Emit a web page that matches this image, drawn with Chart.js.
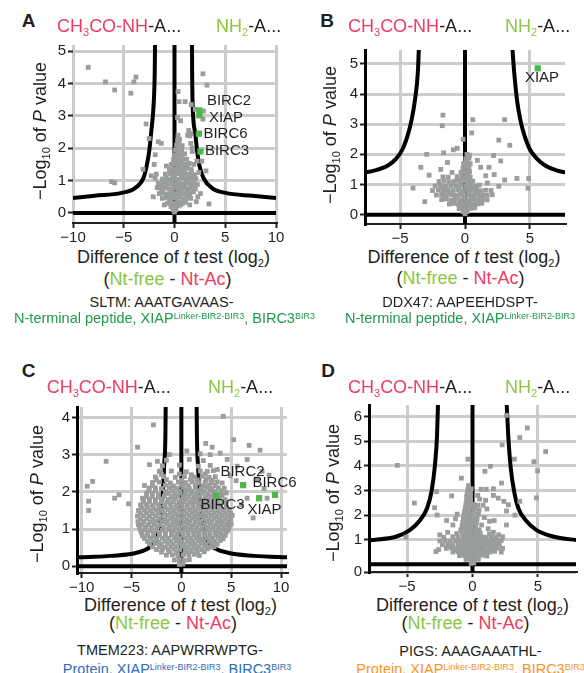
<!DOCTYPE html>
<html>
<head>
<meta charset="utf-8">
<script src="https://cdn.jsdelivr.net/npm/chart.js@4.4.1/dist/chart.umd.min.js"></script>
<style>
html, body { margin: 0; padding: 0; background: #fff; }
body { width: 584px; height: 673px; position: relative; overflow: hidden; font-family: "Liberation Sans", Arial, sans-serif; color: #231f20; }
canvas { position: absolute; }
.t { position: absolute; white-space: nowrap; line-height: 1; transform: translate(-50%, -50%); }
.l { position: absolute; white-space: nowrap; line-height: 1; transform: translateY(-50%); }
.yt { transform: translate(-50%, -50%) rotate(-90deg); }
.let { font-weight: bold; font-size: 19px; }
.hd, .ax { font-size: 18px; }
.cap { font-size: 14.5px; }
.lab { font-size: 15px; }
.sb { font-size: 11px; position: relative; top: 4px; }
.sp { font-size: 9px; position: relative; top: -3.6px; }
.red { color: #ec3c62; }
.lime { color: #8cc63f; }
.grn { color: #1f9a4b; }
.blu { color: #2f6db5; }
.org { color: #f7941d; }
</style>
</head>
<body>

<div class="t let" style="left:28.5px;top:20px">A</div>
<div class="t let" style="left:327px;top:20px">B</div>
<div class="t let" style="left:28.5px;top:370px">C</div>
<div class="t let" style="left:328px;top:370px">D</div>

<div class="l hd" style="left:57px;top:26px"><span class="red">CH<span class="sb">3</span>CO-NH</span>-A...</div>
<div class="l hd" style="left:216px;top:26px"><span class="lime">NH<span class="sb">2</span></span>-A...</div>
<div class="l hd" style="left:348px;top:26px"><span class="red">CH<span class="sb">3</span>CO-NH</span>-A...</div>
<div class="l hd" style="left:505px;top:26px"><span class="lime">NH<span class="sb">2</span></span>-A...</div>
<div class="l hd" style="left:46.7px;top:386.7px"><span class="red">CH<span class="sb">3</span>CO-NH</span>-A...</div>
<div class="l hd" style="left:208px;top:386.7px"><span class="lime">NH<span class="sb">2</span></span>-A...</div>
<div class="l hd" style="left:348px;top:386.7px"><span class="red">CH<span class="sb">3</span>CO-NH</span>-A...</div>
<div class="l hd" style="left:505px;top:386.7px"><span class="lime">NH<span class="sb">2</span></span>-A...</div>

<div class="t ax yt" style="left:40px;top:131px">&minus;Log<span class="sb">10</span> of <i>P</i> value</div>
<div class="t ax yt" style="left:330px;top:135px">&minus;Log<span class="sb">10</span> of <i>P</i> value</div>
<div class="t ax yt" style="left:37px;top:494px">&minus;Log<span class="sb">10</span> of <i>P</i> value</div>
<div class="t ax yt" style="left:333px;top:493px">&minus;Log<span class="sb">10</span> of <i>P</i> value</div>

<div class="t ax" style="left:173.5px;top:257px">Difference of <i>t</i> test (log<span class="sb">2</span>)</div>
<div class="t ax" style="left:464px;top:257px">Difference of <i>t</i> test (log<span class="sb">2</span>)</div>
<div class="t ax" style="left:180.5px;top:605px">Difference of <i>t</i> test (log<span class="sb">2</span>)</div>
<div class="t ax" style="left:472.5px;top:605px">Difference of <i>t</i> test (log<span class="sb">2</span>)</div>

<div class="t ax" style="left:167.5px;top:279px">(<span class="lime">Nt-free</span> - <span class="red">Nt-Ac</span>)</div>
<div class="t ax" style="left:460.5px;top:278px">(<span class="lime">Nt-free</span> - <span class="red">Nt-Ac</span>)</div>
<div class="t ax" style="left:173px;top:622.5px">(<span class="lime">Nt-free</span> - <span class="red">Nt-Ac</span>)</div>
<div class="t ax" style="left:465.5px;top:622.5px">(<span class="lime">Nt-free</span> - <span class="red">Nt-Ac</span>)</div>

<div class="t cap" style="left:161.5px;top:302px">SLTM: AAATGAVAAS-</div>
<div class="t cap grn" style="left:164.5px;top:318px">N-terminal peptide, XIAP<span class="sp">Linker-BIR2-BIR3</span>, BIRC3<span class="sp">BIR3</span></div>
<div class="t cap" style="left:460px;top:302px">DDX47: AAPEEHDSPT-</div>
<div class="t cap grn" style="left:460px;top:318px">N-terminal peptide, XIAP<span class="sp">Linker-BIR2-BIR3</span></div>
<div class="t cap" style="left:170px;top:650px">TMEM223: AAPWRRWPTG-</div>
<div class="t cap blu" style="left:177px;top:669px">Protein, XIAP<span class="sp">Linker-BIR2-BIR3</span>, BIRC3<span class="sp">BIR3</span></div>
<div class="t cap" style="left:470.5px;top:651px">PIGS: AAAGAAATHL-</div>
<div class="t cap org" style="left:470.5px;top:669px">Protein, XIAP<span class="sp">Linker-BIR2-BIR3</span>, BIRC3<span class="sp">BIR3</span></div>

<script>
// ---- panel A (SLTM) ----
const aXTicks = [-10, -5, 0, 5, 10];
const aYTicks = [0, 1, 2, 3, 4, 5];
const aCurveL = [[-10, 0.46], [-7.85, 0.53], [-5.2, 0.62], [-3.89, 0.77], [-3.07, 1.07], [-2.73, 1.47], [-2.47, 1.96], [-2.31, 2.45], [-2.04, 3.44], [-1.95, 4.3], [-1.91, 5.4]];
const aCurveR = [[1.72, 5.4], [1.74, 4.3], [1.78, 3.44], [2.05, 2.45], [2.21, 1.96], [2.45, 1.47], [2.87, 1.07], [3.7, 0.77], [5.02, 0.62], [7.66, 0.53], [10, 0.46]];
const aGreen = [[2.45, 3.17], [2.45, 3.02], [2.4, 2.45], [2.55, 1.9]];
const aGrey = [
  [-8.5, 4.5], [-6.8, 4.05], [-5.9, 3.8], [-4.3, 3.7], [-4.0, 4.05], [-3.8, 4.2], [-2.8, 2.75], [-2.5, 2.3], [-1.6, 2.2], [-1.3, 2.15],
  [-3.1, 1.35], [-6.2, 0.97], [-5.9, 0.93], [-1.9, 1.8], [-2.3, 1.15], [-1.9, 1.07], [-1.6, 0.92], [-2.0, 1.5],
  [2.8, 4.3], [3.2, 3.95], [0.35, 3.75], [0.45, 3.44], [1.65, 3.35], [1.05, 3.44], [2.05, 3.2], [2.85, 3.15], [2.8, 2.9],
  [1.3, 2.4], [1.5, 2.38], [1.4, 2.55], [1.6, 2.45], [1.75, 1.9], [2.7, 1.6], [2.2, 1.6], [3.1, 1.3], [3.4, 0.28], [2.55, 0.6],
  [1.75, 2.0], [1.6, 2.15], [0.6, 2.85], [0.3, 2.95],
  [0, 0.03], [-0.15, 0.1], [0.15, 0.1],
  [-0.35, 0.2], [0.05, 0.18], [0.35, 0.22], [0.6, 0.25],
  [-0.7, 0.3], [-0.35, 0.33], [0, 0.3], [0.4, 0.35], [0.8, 0.3], [1.1, 0.33],
  [-1.2, 0.45], [-0.85, 0.48], [-0.5, 0.44], [-0.15, 0.47], [0.2, 0.45], [0.55, 0.5], [0.9, 0.44], [1.25, 0.48], [1.6, 0.45],
  [-1.5, 0.6], [-1.1, 0.62], [-0.7, 0.58], [-0.3, 0.63], [0.1, 0.6], [0.45, 0.64], [0.8, 0.6], [1.15, 0.62], [1.5, 0.6], [1.85, 0.65],
  [-1.7, 0.78], [-1.3, 0.75], [-0.9, 0.77], [-0.5, 0.73], [-0.1, 0.76], [0.3, 0.78], [0.65, 0.74], [1.0, 0.77], [1.35, 0.75], [1.7, 0.78], [2.05, 0.74],
  [-1.5, 0.9], [-1.05, 0.92], [-0.65, 0.88], [-0.25, 0.91], [0.15, 0.9], [0.5, 0.93], [0.85, 0.89], [1.2, 0.92], [1.55, 0.9], [1.9, 0.93], [2.25, 0.88],
  [-1.2, 1.05], [-0.8, 1.07], [-0.4, 1.03], [0, 1.06], [0.35, 1.04], [0.7, 1.08], [1.05, 1.05], [1.4, 1.07], [1.75, 1.03], [2.1, 1.06],
  [-0.9, 1.2], [-0.45, 1.22], [-0.05, 1.19], [0.3, 1.22], [0.65, 1.2], [1.0, 1.23], [1.35, 1.2], [1.7, 1.22], [2.0, 1.18],
  [-0.5, 1.35], [-0.1, 1.37], [0.25, 1.34], [0.6, 1.37], [0.95, 1.35], [1.3, 1.38], [1.65, 1.34],
  [-0.3, 1.5], [0.1, 1.52], [0.4, 1.49], [0.75, 1.52], [1.1, 1.5], [1.45, 1.53],
  [-0.1, 1.65], [0.2, 1.67], [0.5, 1.64], [0.85, 1.67], [1.2, 1.66],
  [0.05, 1.8], [0.35, 1.82], [0.65, 1.79], [1.0, 1.83],
  [0.1, 1.95], [0.4, 1.97], [0.7, 1.94],
  [0.2, 2.1], [0.45, 2.12], [0.75, 2.08],
  [0.3, 2.25], [0.5, 2.27], [0.35, 2.4],
  [-2.1, 0.5], [-1.8, 1.2], [2.4, 1.25], [2.3, 0.5], [-0.8, 1.45], [1.9, 1.5], [2.15, 0.35], [-1.0, 0.25], [1.5, 0.25],
  [-0.5, 0.55], [0.35, 0.55], [1.3, 0.7], [-1.25, 0.85], [0.6, 0.85], [1.75, 0.85], [-0.6, 1.0], [0.25, 0.98], [1.2, 0.98],
  [-0.2, 1.13], [0.85, 1.13], [1.6, 1.13], [0.1, 1.28], [0.8, 1.28], [0.35, 1.43], [1.0, 1.43], [0.6, 1.58], [0.3, 1.73]
];

// ---- panel B (DDX47) ----
const bXTicks = [-5, 0, 5];
const bYTicks = [0, 1, 2, 3, 4, 5];
const bCurveL = [[-7.8, 1.39], [-7.0, 1.46], [-5.97, 1.62], [-5.33, 1.84], [-4.82, 2.16], [-4.38, 2.68], [-4.13, 3.11], [-3.87, 3.75], [-3.62, 4.81], [-3.54, 5.7]];
const bCurveR = [[3.62, 5.7], [3.77, 4.81], [4.02, 3.75], [4.28, 3.11], [4.54, 2.68], [5.0, 2.16], [5.57, 1.84], [6.2, 1.62], [7.1, 1.46], [7.8, 1.4]];
const bGreen = [[5.6, 4.85]];
const bGrey = [
  [-1.7, 3.3], [-1.75, 2.95], [0.6, 3.15], [0.52, 2.71], [3.05, 3.15], [2.6, 2.47], [3.45, 2.3], [-0.15, 2.5], [-0.6, 2.2], [-0.9, 2.15],
  [-1.65, 2.05], [-2.95, 2.0], [-3.4, 1.57], [-4.0, 0.88], [-3.1, 0.43], [-2.76, 1.31], [-1.87, 1.5], [-1.35, 1.73], [0.95, 1.8], [1.2, 1.57],
  [1.85, 1.57], [2.2, 1.96], [2.75, 1.78], [2.25, 1.33], [1.6, 1.29], [3.05, 1.15], [2.6, 0.94], [4.0, 1.2], [4.9, 1.2], [4.85, 0.88],
  [0.35, 1.42], [1.72, 1.05],
  [0, 0.03], [-0.15, 0.1], [0.15, 0.1],
  [-0.45, 0.2], [-0.15, 0.22], [0.15, 0.19], [0.45, 0.21], [0.75, 0.23],
  [-1.2, 0.35], [-0.85, 0.37], [-0.5, 0.34], [-0.2, 0.36], [0.1, 0.35], [0.4, 0.37], [0.7, 0.34], [1.0, 0.36], [1.3, 0.38],
  [-1.8, 0.5], [-1.45, 0.52], [-1.1, 0.48], [-0.75, 0.51], [-0.4, 0.5], [-0.05, 0.52], [0.3, 0.49], [0.65, 0.51], [1.0, 0.5], [1.35, 0.53], [1.7, 0.49],
  [-2.2, 0.65], [-1.8, 0.67], [-1.45, 0.63], [-1.1, 0.66], [-0.75, 0.64], [-0.4, 0.67], [-0.05, 0.65], [0.3, 0.66], [0.65, 0.63], [1.0, 0.67], [1.35, 0.65], [1.7, 0.64], [2.1, 0.66],
  [-2.5, 0.8], [-2.05, 0.82], [-1.65, 0.78], [-1.3, 0.81], [-0.9, 0.8], [-0.5, 0.82], [-0.15, 0.79], [0.2, 0.81], [0.55, 0.8], [0.9, 0.83], [1.25, 0.79], [1.6, 0.81], [2.0, 0.8],
  [-2.3, 0.95], [-1.9, 0.97], [-1.5, 0.94], [-1.1, 0.96], [-0.7, 0.95], [-0.3, 0.97], [0.05, 0.94], [0.4, 0.96], [0.75, 0.95], [1.1, 0.98],
  [-2.0, 1.1], [-1.6, 1.12], [-1.2, 1.09], [-0.8, 1.11], [-0.4, 1.1], [-0.05, 1.12], [0.3, 1.09], [0.6, 1.11],
  [-1.7, 1.25], [-1.3, 1.24], [-0.6, 1.26], [-0.2, 1.25], [0.1, 1.27], [0.4, 1.24],
  [-0.3, 1.4], [0, 1.42], [0.25, 1.39], [-1.0, 1.4],
  [-0.15, 1.55], [0.1, 1.57], [0.3, 1.54],
  [-0.1, 1.7], [0.15, 1.72], [0.4, 1.69],
  [0.05, 1.85], [0.3, 1.87], [0.15, 2.0], [0.35, 1.97],
  [-0.3, 0.28], [0.3, 0.28], [-1.0, 0.43], [0.15, 0.43], [0.85, 0.43], [-1.6, 0.58], [-0.6, 0.58], [0.5, 0.58], [1.2, 0.58],
  [-1.25, 0.73], [-0.2, 0.73], [0.8, 0.73], [-1.7, 0.88], [-0.5, 0.88], [0.4, 0.88], [-0.9, 1.03], [0.15, 1.03], [-0.6, 1.18], [0.2, 1.18]
];

// ---- panel C (TMEM223) ----
const cXTicks = [-10, -5, 0, 5, 10];
const cYTicks = [0, 1, 2, 3, 4];
const cCurveL = [[-10.6, 0.23], [-10.2, 0.24], [-7.07, 0.28], [-4.4, 0.37], [-3.07, 0.54], [-2.4, 0.8], [-2.13, 1.15], [-1.9, 1.83], [-1.73, 2.69], [-1.6, 3.55], [-1.57, 4.4]];
const cCurveR = [[1.53, 4.4], [1.56, 3.55], [1.67, 2.69], [1.87, 1.83], [2.1, 1.15], [2.43, 0.8], [3.1, 0.54], [4.6, 0.37], [7.27, 0.28], [10.9, 0.24]];
const cGreen = [[6.2, 2.18], [9.4, 1.92], [7.8, 1.83], [3.5, 1.9]];
const cGrey = [
  [4.2, 4.03], [-2.8, 3.8], [5.25, 3.4], [6.8, 3.25], [7.9, 3.12], [-4.4, 3.2], [-7.55, 2.82], [-8.9, 2.28], [-9.45, 2.15], [-9.3, 1.75],
  [-9.3, 1.5], [-6.25, 1.92], [-6.7, 1.83], [-5.3, 1.68], [-2.4, 2.82], [8.1, 2.55], [2.45, 3.3], [3.1, 3.2], [0.55, 3.1],
  [-2.07, 2.56], [-3.2, 2.73], [-3.9, 1.83], [-3.7, 2.17], [2.9, 3.0], [3.9, 3.04], [4.6, 2.87], [5.6, 2.69], [4.9, 2.43],
  [3.6, 2.6], [6.6, 2.87], [7.6, 2.35], [8.3, 2.09], [8.6, 1.83], [6.6, 1.83], [6.0, 1.66], [8.8, 2.45], [7.2, 1.3], [5.5, 2.3],
  [-0.2, 0.05], [0.15, 0.06],
  [-0.7, 0.17], [-0.2, 0.18], [0.3, 0.16], [0.8, 0.18],
  [-1.5, 0.3], [-0.9, 0.31], [-0.35, 0.29], [0.2, 0.31], [0.75, 0.3], [1.3, 0.32], [1.8, 0.29],
  [-2.5, 0.45], [-1.9, 0.46], [-1.3, 0.44], [-0.7, 0.46], [-0.15, 0.45], [0.4, 0.47], [0.95, 0.44], [1.5, 0.46], [2.05, 0.45], [2.6, 0.47],
  [-3.2, 0.6], [-2.6, 0.61], [-2.0, 0.59], [-1.4, 0.61], [-0.8, 0.6], [-0.25, 0.62], [0.3, 0.59], [0.85, 0.61], [1.4, 0.6], [1.95, 0.62], [2.5, 0.59], [3.05, 0.61], [3.6, 0.6],
  [-3.7, 0.75], [-3.1, 0.76], [-2.5, 0.74], [-1.9, 0.76], [-1.3, 0.75], [-0.7, 0.77], [-0.15, 0.74], [0.4, 0.76], [0.95, 0.75], [1.5, 0.77], [2.05, 0.74], [2.6, 0.76], [3.15, 0.75], [3.7, 0.77], [4.2, 0.74],
  [-4.0, 0.9], [-3.4, 0.91], [-2.8, 0.89], [-2.2, 0.91], [-1.6, 0.9], [-1.0, 0.92], [-0.45, 0.89], [0.1, 0.91], [0.65, 0.9], [1.2, 0.92], [1.75, 0.89], [2.3, 0.91], [2.85, 0.9], [3.4, 0.92], [3.95, 0.89], [4.5, 0.91],
  [-4.2, 1.05], [-3.6, 1.06], [-3.0, 1.04], [-2.4, 1.06], [-1.8, 1.05], [-1.2, 1.07], [-0.65, 1.04], [-0.1, 1.06], [0.45, 1.05], [1.0, 1.07], [1.55, 1.04], [2.1, 1.06], [2.65, 1.05], [3.2, 1.07], [3.75, 1.04], [4.3, 1.06], [4.8, 1.05],
  [-4.35, 1.2], [-3.75, 1.21], [-3.15, 1.19], [-2.55, 1.21], [-1.95, 1.2], [-1.35, 1.22], [-0.8, 1.19], [-0.25, 1.21], [0.3, 1.2], [0.85, 1.22], [1.4, 1.19], [1.95, 1.21], [2.5, 1.2], [3.05, 1.22], [3.6, 1.19], [4.15, 1.21], [4.7, 1.2],
  [-4.4, 1.35], [-3.8, 1.36], [-3.2, 1.34], [-2.6, 1.36], [-2.0, 1.35], [-1.4, 1.37], [-0.85, 1.34], [-0.3, 1.36], [0.25, 1.35], [0.8, 1.37], [1.35, 1.34], [1.9, 1.36], [2.45, 1.35], [3.0, 1.37], [3.55, 1.34], [4.1, 1.36], [4.65, 1.35], [5.1, 1.37],
  [-4.3, 1.5], [-3.7, 1.51], [-3.1, 1.49], [-2.5, 1.51], [-1.9, 1.5], [-1.3, 1.52], [-0.75, 1.49], [-0.2, 1.51], [0.35, 1.5], [0.9, 1.52], [1.45, 1.49], [2.0, 1.51], [2.55, 1.5], [3.1, 1.52], [3.65, 1.49], [4.2, 1.51], [4.8, 1.5],
  [-4.1, 1.65], [-3.5, 1.66], [-2.9, 1.64], [-2.3, 1.66], [-1.7, 1.65], [-1.1, 1.67], [-0.5, 1.64], [0.05, 1.66], [0.6, 1.65], [1.15, 1.67], [1.7, 1.64], [2.25, 1.66], [2.8, 1.65], [3.35, 1.67], [3.9, 1.64], [4.5, 1.66],
  [-3.8, 1.8], [-3.2, 1.81], [-2.6, 1.79], [-2.0, 1.81], [-1.3, 1.8], [-0.6, 1.82], [-0.05, 1.79], [0.5, 1.81], [1.05, 1.8], [1.6, 1.82], [2.15, 1.79], [2.7, 1.81], [3.25, 1.8], [3.8, 1.82], [4.4, 1.79],
  [-3.5, 1.95], [-2.9, 1.96], [-2.3, 1.94], [-1.3, 1.96], [-0.7, 1.95], [-0.1, 1.97], [0.45, 1.94], [1.0, 1.96], [1.55, 1.95], [2.1, 1.97], [2.65, 1.94], [3.2, 1.96], [4.0, 1.95], [4.5, 1.97],
  [-3.2, 2.1], [-2.6, 2.11], [-2.0, 2.09], [-1.2, 2.11], [-0.5, 2.1], [0.2, 2.12], [0.8, 2.09], [1.4, 2.11], [2.0, 2.1], [2.6, 2.12], [3.1, 2.09], [3.7, 2.11], [4.3, 2.1],
  [-2.9, 2.25], [-2.2, 2.26], [-1.1, 2.24], [-0.3, 2.26], [0.4, 2.25], [1.1, 2.27], [1.8, 2.24], [2.4, 2.26], [3.0, 2.25], [3.6, 2.27], [4.1, 2.24],
  [-2.6, 2.4], [-1.8, 2.41], [-0.6, 2.39], [0.3, 2.41], [1.3, 2.4], [2.1, 2.42], [2.8, 2.39], [3.4, 2.41],
  [-2.2, 2.55], [-1.0, 2.56], [0.5, 2.54], [1.9, 2.56], [2.6, 2.55], [3.2, 2.57],
  [-1.9, 2.7], [-0.2, 2.72], [1.7, 2.69], [2.9, 2.71],
  [-1.5, 2.85], [0.8, 2.87], [2.2, 2.84],
  [-1.2, 3.0], [1.9, 3.02],
  [-2.0, 0.38], [-1.2, 0.39], [-0.45, 0.37], [0.5, 0.38], [1.0, 0.4], [1.6, 0.37], [2.3, 0.39],
  [-2.9, 0.52], [-2.2, 0.53], [-1.6, 0.51], [-1.05, 0.53], [-0.5, 0.52], [0.1, 0.54], [0.65, 0.51], [1.2, 0.53], [1.75, 0.52], [2.3, 0.54], [2.85, 0.51], [3.3, 0.53],
  [-3.4, 0.67], [-2.85, 0.68], [-2.25, 0.66], [-1.65, 0.68], [-1.05, 0.67], [-0.5, 0.69], [0.05, 0.66], [0.6, 0.68], [1.15, 0.67], [1.7, 0.69], [2.25, 0.66], [2.8, 0.68], [3.35, 0.67], [3.9, 0.69],
  [-3.9, 0.82], [-3.4, 0.83], [-2.8, 0.81], [-2.2, 0.83], [-1.6, 0.82], [-1.0, 0.84], [-0.45, 0.81], [0.15, 0.83], [0.7, 0.82], [1.25, 0.84], [1.8, 0.81], [2.35, 0.83], [2.9, 0.82], [3.45, 0.84], [3.95, 0.81], [4.4, 0.83],
  [-4.1, 0.97], [-3.7, 0.98], [-3.1, 0.96], [-2.5, 0.98], [-1.9, 0.97], [-1.3, 0.99], [-0.75, 0.96], [-0.2, 0.98], [0.35, 0.97], [0.9, 0.99], [1.45, 0.96], [2.0, 0.98], [2.55, 0.97], [3.1, 0.99], [3.65, 0.96], [4.2, 0.98], [4.7, 0.97],
  [-4.3, 1.12], [-3.9, 1.13], [-3.3, 1.11], [-2.7, 1.13], [-2.1, 1.12], [-1.5, 1.14], [-0.95, 1.11], [-0.4, 1.13], [0.15, 1.12], [0.7, 1.14], [1.25, 1.11], [1.8, 1.13], [2.35, 1.12], [2.9, 1.14], [3.45, 1.11], [4.0, 1.13], [4.55, 1.12], [5.0, 1.14],
  [-4.1, 1.27], [-3.45, 1.28], [-2.85, 1.26], [-2.25, 1.28], [-1.65, 1.27], [-1.05, 1.29], [-0.55, 1.26], [0.0, 1.28], [0.55, 1.27], [1.1, 1.29], [1.65, 1.26], [2.2, 1.28], [2.75, 1.27], [3.3, 1.29], [3.85, 1.26], [4.4, 1.28], [4.95, 1.27],
  [-4.15, 1.42], [-3.5, 1.43], [-2.9, 1.41], [-2.3, 1.43], [-1.7, 1.42], [-1.1, 1.44], [-0.55, 1.41], [0.0, 1.43], [0.55, 1.42], [1.1, 1.44], [1.65, 1.41], [2.2, 1.43], [2.75, 1.42], [3.3, 1.44], [3.85, 1.41], [4.4, 1.43], [4.95, 1.42],
  [-4.0, 1.57], [-3.4, 1.58], [-2.8, 1.56], [-2.2, 1.58], [-1.6, 1.57], [-1.0, 1.59], [-0.45, 1.56], [0.1, 1.58], [0.65, 1.57], [1.2, 1.59], [1.75, 1.56], [2.3, 1.58], [2.85, 1.57], [3.4, 1.59], [3.95, 1.56], [4.5, 1.58],
  [-3.8, 1.72], [-3.2, 1.73], [-2.6, 1.71], [-2.0, 1.73], [-1.4, 1.72], [-0.8, 1.74], [-0.25, 1.71], [0.3, 1.73], [0.85, 1.72], [1.4, 1.74], [1.95, 1.71], [2.5, 1.73], [3.05, 1.72], [3.6, 1.74], [4.15, 1.71],
  [-3.5, 1.87], [-2.9, 1.88], [-2.3, 1.86], [-1.7, 1.88], [-1.0, 1.87], [-0.35, 1.89], [0.2, 1.86], [0.75, 1.88], [1.3, 1.87], [1.85, 1.89], [2.4, 1.86], [2.95, 1.88], [3.5, 1.87], [4.1, 1.89],
  [-3.3, 2.02], [-2.6, 2.03], [-1.6, 2.01], [-0.9, 2.03], [-0.2, 2.02], [0.5, 2.04], [1.1, 2.01], [1.7, 2.03], [2.3, 2.02], [2.9, 2.04], [3.4, 2.01], [4.0, 2.03],
  [-2.9, 2.17], [-1.6, 2.18], [-0.8, 2.16], [0.0, 2.18], [0.7, 2.17], [1.4, 2.19], [2.2, 2.16], [2.8, 2.18], [3.4, 2.17],
  [-2.5, 2.32], [-1.5, 2.33], [0.0, 2.31], [0.9, 2.33], [1.6, 2.32], [2.5, 2.34], [3.1, 2.31],
  [-2.0, 2.47], [-0.2, 2.48], [1.0, 2.46], [2.4, 2.48]
];

// ---- panel D (PIGS) ----
const dXTicks = [-5, 0, 5];
const dYTicks = [-0.31, 1, 2, 3, 4, 5, 6];
const dYLabels = ['0', '1', '2', '3', '4', '5', '6'];
const dCurveL = [[-7.95, 0.97], [-5.82, 1.13], [-4.8, 1.39], [-4.03, 1.78], [-3.47, 2.29], [-3.14, 2.94], [-2.88, 4.0], [-2.71, 5.28], [-2.63, 6.7]];
const dCurveR = [[2.6, 6.7], [2.73, 5.28], [2.91, 4.0], [3.19, 2.94], [3.5, 2.29], [4.09, 1.78], [4.9, 1.39], [6.17, 1.13], [8.16, 0.97]];
const dGreen = [];
const dGrey = [
  [-5.75, 4.02], [-4.45, 2.49], [-5.1, 1.1], [-2.75, 2.95], [-2.9, 2.3], [-2.7, 2.0], [-2.8, 0.52], [-0.85, 3.5], [-0.35, 4.27], [-1.6, 2.78],
  [-1.17, 2.04], [-1.98, 1.78], [0.95, 3.78], [1.37, 3.98], [2.27, 4.85], [2.6, 6.05], [3.62, 5.15], [4.2, 5.54], [5.6, 4.58], [3.2, 4.27],
  [4.7, 4.17], [4.98, 3.8], [4.9, 2.7], [3.62, 2.56], [2.22, 3.3], [0.65, 3.05], [1.05, 3.05], [1.6, 3.07], [1.6, 2.8], [2.75, 2.42],
  [2.6, 2.17], [3.25, 2.0], [2.6, 1.6], [2.3, 1.12], [1.66, 1.78], [1.97, 2.69], [2.4, 2.56],
  [-0.1, 0.04], [0.1, 0.06],
  [-0.5, 0.2], [-0.2, 0.22], [0.15, 0.19], [0.45, 0.21],
  [-1.0, 0.35], [-0.65, 0.37], [-0.3, 0.34], [0.05, 0.36], [0.4, 0.35], [0.75, 0.37], [1.1, 0.34],
  [-1.5, 0.5], [-1.1, 0.52], [-0.75, 0.49], [-0.4, 0.51], [-0.05, 0.5], [0.3, 0.52], [0.65, 0.49], [1.0, 0.51], [1.35, 0.5], [1.7, 0.53], [2.2, 0.5],
  [-2.0, 0.65], [-1.6, 0.67], [-1.2, 0.64], [-0.85, 0.66], [-0.5, 0.65], [-0.15, 0.67], [0.2, 0.64], [0.55, 0.66], [0.9, 0.65], [1.25, 0.68], [1.6, 0.64], [1.95, 0.66], [2.3, 0.65],
  [-2.3, 0.8], [-1.9, 0.82], [-1.5, 0.79], [-1.1, 0.81], [-0.75, 0.8], [-0.4, 0.82], [-0.05, 0.79], [0.3, 0.81], [0.65, 0.8], [1.0, 0.82], [1.35, 0.79], [1.7, 0.81], [2.05, 0.8],
  [-2.5, 0.95], [-2.1, 0.97], [-1.7, 0.94], [-1.3, 0.96], [-0.9, 0.95], [-0.55, 0.97], [-0.2, 0.94], [0.15, 0.96], [0.5, 0.95], [0.85, 0.97], [1.2, 0.94], [1.55, 0.96], [1.9, 0.95], [2.2, 0.97],
  [-2.2, 1.1], [-1.5, 1.12], [-1.1, 1.09], [-0.7, 1.11], [-0.35, 1.1], [0, 1.12], [0.35, 1.09], [0.7, 1.11], [1.05, 1.1], [1.45, 1.12], [1.8, 1.09],
  [-1.2, 1.25], [-0.8, 1.27], [-0.45, 1.24], [-0.1, 1.26], [0.25, 1.25], [0.6, 1.27], [1.3, 1.24],
  [-0.9, 1.4], [-0.55, 1.42], [-0.2, 1.39], [0.15, 1.41], [0.5, 1.4],
  [-0.8, 1.55], [-0.45, 1.57], [-0.1, 1.54], [0.25, 1.56],
  [-0.75, 1.7], [-0.4, 1.72], [-0.05, 1.69], [0.3, 1.71],
  [-0.7, 1.85], [-0.35, 1.87], [0, 1.84], [0.35, 1.86],
  [-0.65, 2.0], [-0.3, 2.02], [0.05, 1.99], [0.45, 2.03],
  [-0.6, 2.15], [-0.25, 2.17], [0.1, 2.14], [0.5, 2.2],
  [-0.55, 2.3], [-0.2, 2.32], [0.15, 2.28],
  [-0.5, 2.45], [-0.2, 2.47], [0.1, 2.44], [0.4, 2.4],
  [-0.45, 2.6], [-0.15, 2.62], [-0.45, 2.75], [-0.15, 2.77], [0.4, 2.8],
  [-0.4, 2.9], [-0.15, 2.92], [-0.35, 3.05], [-0.1, 3.07], [-0.3, 3.2],
  [0.8, 2.4], [1.1, 2.25], [0.9, 1.9], [1.3, 1.75], [1.2, 1.45], [0.7, 1.6], [1.6, 1.3], [2.0, 1.2], [0.55, 2.65], [1.0, 2.6],
  [-1.5, 1.6], [-1.9, 1.3], [-1.3, 1.85], [-2.5, 1.2], [-2.6, 0.6],
  [-0.3, 0.28], [0.3, 0.28], [-0.9, 0.43], [0.2, 0.43], [0.9, 0.43], [-1.3, 0.58], [-0.2, 0.58], [0.8, 0.58], [1.5, 0.58],
  [-1.7, 0.73], [-0.6, 0.73], [0.4, 0.73], [1.4, 0.73], [-1.0, 0.88], [0.0, 0.88], [1.1, 0.88], [-0.4, 1.03], [0.6, 1.03],
  [-0.6, 1.18], [0.4, 1.18], [-0.35, 1.33], [0.3, 1.33], [-0.6, 1.48], [-0.25, 1.63], [-0.5, 1.78], [-0.45, 2.08], [-0.35, 2.38]
];

const FONT = "'Liberation Sans', Arial, sans-serif";
const INK = '#231f20';
const YW = 30, XH = 22, PT = 4, PR = 12;

function minus(v) {
  return v < 0 ? '\u2212' + Math.abs(v) : String(v);
}

function pts(arr) {
  return arr.map(p => ({ x: p[0], y: p[1] }));
}

function blackLine(data, smooth) {
  return {
    data: pts(data),
    showLine: true,
    borderColor: '#000',
    borderWidth: 4,
    pointRadius: 0,
    fill: false,
    cubicInterpolationMode: smooth ? 'monotone' : 'default',
    order: 2
  };
}

function squares(data, color, r, order) {
  return {
    data: pts(data),
    pointStyle: 'rect',
    pointRadius: r,
    pointBackgroundColor: color,
    pointBorderWidth: 0,
    backgroundColor: color,
    borderWidth: 0,
    order: order
  };
}

// box = pixel edges of the plot area on the page
function volcano(box, o) {
  const cv = document.createElement('canvas');
  cv.width = box.right - box.left + YW + PR;
  cv.height = box.bottom - box.top + PT + XH;
  cv.style.left = (box.left - YW) + 'px';
  cv.style.top = (box.top - PT) + 'px';
  document.body.insertBefore(cv, document.body.firstChild);

  new Chart(cv, {
    type: 'scatter',
    data: {
      datasets: [
        squares(o.green, '#4cb848', 4.4, 0),
        squares(o.grey, '#9b9d9d', 3.4, 1),
        blackLine(o.curveL, true),
        blackLine(o.curveR, true),
        blackLine([[0, o.y[0]], [0, o.y[1]]], false),
        blackLine([[o.x[0], 0], [o.x[1], 0]], false)
      ]
    },
    options: {
      responsive: false,
      animation: false,
      events: [],
      layout: { padding: { top: PT, right: PR, left: 0, bottom: 0 } },
      plugins: { legend: { display: false }, tooltip: { enabled: false } },
      scales: {
        x: {
          type: 'linear',
          min: o.x[0],
          max: o.x[1],
          afterBuildTicks: s => { s.ticks = o.xTicks.map(v => ({ value: v })); },
          afterFit: s => { s.height = XH; },
          ticks: { font: { family: FONT, size: 15 }, color: INK, padding: 1, maxRotation: 0, autoSkip: false, callback: v => minus(v) },
          grid: { color: '#cccccc', lineWidth: 3, tickColor: INK, tickWidth: 2, tickLength: 5 },
          border: { color: INK, width: 2 }
        },
        y: {
          type: 'linear',
          min: o.y[0],
          max: o.y[1],
          afterBuildTicks: s => { s.ticks = o.yTicks.map(v => ({ value: v })); },
          afterFit: s => { s.width = YW; },
          ticks: { font: { family: FONT, size: 15 }, color: INK, padding: 2, autoSkip: false,
                   callback: (v, i) => o.yLabels ? o.yLabels[i] : minus(v) },
          grid: { color: '#cccccc', lineWidth: 3, tickColor: INK, tickWidth: 2, tickLength: 5 },
          border: { display: o.leftLine, color: '#000', width: 3 }
        }
      }
    }
  });
}

volcano({ left: 73, right: 276, top: 38, bottom: 223 },
  { x: [-10, 10], y: [-0.31, 5.19], xTicks: aXTicks, yTicks: aYTicks, curveL: aCurveL, curveR: aCurveR, grey: aGrey, green: aGreen, leftLine: false });
volcano({ left: 365, right: 565, top: 43, bottom: 224 },
  { x: [-7.7, 7.7], y: [-0.31, 5.46], xTicks: bXTicks, yTicks: bYTicks, curveL: bCurveL, curveR: bCurveR, grey: bGrey, green: bGreen, leftLine: true });
volcano({ left: 77, right: 287, top: 400, bottom: 573 },
  { x: [-10.47, 10.6], y: [-0.18, 4.28], xTicks: cXTicks, yTicks: cYTicks, curveL: cCurveL, curveR: cCurveR, grey: cGrey, green: cGreen, leftLine: true });
volcano({ left: 369, right: 576, top: 398, bottom: 572 },
  { x: [-7.92, 7.92], y: [-0.31, 6.47], xTicks: dXTicks, yTicks: dYTicks, yLabels: dYLabels, curveL: dCurveL, curveR: dCurveR, grey: dGrey, green: dGreen, leftLine: true });
</script>

<div class="t lab" style="left:229px;top:99px">BIRC2</div>
<div class="t lab" style="left:226px;top:115.5px">XIAP</div>
<div class="t lab" style="left:225.5px;top:132px">BIRC6</div>
<div class="t lab" style="left:227px;top:148.5px">BIRC3</div>
<div class="t lab" style="left:542px;top:75.5px">XIAP</div>
<div class="t lab" style="left:242.5px;top:469.5px">BIRC2</div>
<div class="t lab" style="left:274.5px;top:481px">BIRC6</div>
<div class="t lab" style="left:222.5px;top:503px">BIRC3</div>
<div class="t lab" style="left:264.5px;top:507.5px">XIAP</div>

</body>
</html>
